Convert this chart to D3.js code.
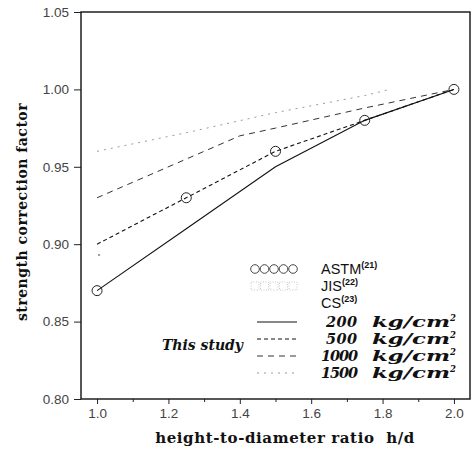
<!DOCTYPE html>
<html lang="en">
<head>
	<meta charset="UTF-8">
	<title>strength correction factor</title>
	<script src="https://cdn.jsdelivr.net/npm/d3@7"></script>
	<style>
		body{margin:0;background:#fff;}
		.tick text{font-family:"Liberation Sans",Arial,sans-serif;font-size:13.5px;fill:#444;}
	</style>
</head>
<body>
<script type="text/javascript">
// h/d values
var hd = [1.0, 1.25, 1.5, 1.75, 2.0];
// ASTM(21) markers
var astm = [0.87, 0.93, 0.96, 0.98, 1.00];
// JIS / CS markers (faint)
var jisX = [1.0];
var jis = [0.893];
// this study, per strength
var s200X = [1.0, 1.25, 1.5, 1.75, 2.0];
var s200 = [0.87, 0.91, 0.95, 0.98, 1.00];
var s500X = [1.0, 1.25, 1.5, 1.75, 2.0];
var s500 = [0.90, 0.93, 0.96, 0.98, 1.00];
var s1000X = [1.0, 1.25, 1.4, 1.5, 1.75, 2.0];
var s1000 = [0.930, 0.955, 0.970, 0.975, 0.988, 1.00];
var s1500X = [1.0, 1.25, 1.5, 1.75, 1.82];
var s1500 = [0.960, 0.972, 0.985, 0.996, 1.00];
var xTicks = [1.0, 1.2, 1.4, 1.6, 1.8, 2.0];
var xMinor = [1.1, 1.3, 1.5, 1.7, 1.9];
var yTicks = [0.80, 0.85, 0.90, 0.95, 1.00, 1.05];

var width = 472, height = 451;
var padding = {top:12, right:2, bottom:52, left:81};
var svg = d3.select("body").append("svg").attr("width",width).attr("height",height);

var xScale = d3.scaleLinear().domain([0.955,2.045]).range([padding.left, width-padding.right]);
var yScale = d3.scaleLinear().domain([0.80,1.05]).range([height-padding.bottom, padding.top]);

//坐标轴
var xAxis = d3.axisBottom(xScale).tickValues(xTicks).tickFormat(d3.format(".1f")).tickSize(5).tickPadding(4);
var xAxisMinor = d3.axisBottom(xScale).tickValues(xMinor).tickFormat("").tickSize(3);
var yAxis = d3.axisLeft(yScale).tickValues(yTicks).tickFormat(d3.format(".2f")).tickSize(7).tickPadding(5);

svg.append("g").attr("transform","translate(0,"+(height-padding.bottom)+")").call(xAxis);
svg.append("g").attr("transform","translate(0,"+(height-padding.bottom)+")").call(xAxisMinor);
svg.append("g").attr("transform","translate("+padding.left+",0)").call(yAxis);
svg.selectAll(".domain").remove();
svg.selectAll(".tick line").attr("stroke","#222");

//边框
svg.append("rect").attr("x",padding.left).attr("y",padding.top)
	.attr("width",width-padding.right-padding.left).attr("height",height-padding.bottom-padding.top)
	.attr("fill","none").attr("stroke","#111").attr("stroke-width",1.4);

//轴标题
svg.append("text").attr("x",285).attr("y",443)
	.attr("text-anchor","middle").attr("font-family","DejaVu Serif").attr("font-weight","bold")
	.attr("font-size","15px").attr("fill","#111").attr("letter-spacing","0.6px").attr("xml:space","preserve")
	.text("height-to-diameter ratio  h/d");
svg.append("text").attr("transform","translate(27,212) rotate(-90)")
	.attr("text-anchor","middle").attr("font-family","DejaVu Serif").attr("font-weight","bold")
	.attr("font-size","14px").attr("fill","#111").attr("letter-spacing","0.5px")
	.text("strength correction factor");

var line = d3.line().x(function(d){return xScale(d[0]);}).y(function(d){return yScale(d[1]);});
var series = [
	{x:s1500X, y:s1500, dash:"2,5", color:"#9a9a9a", w:1},
	{x:s1000X, y:s1000, dash:"6,5", color:"#333", w:1},
	{x:s500X, y:s500, dash:"4,3", color:"#111", w:1.1},
	{x:s200X, y:s200, dash:null, color:"#111", w:1.1}
];
series.forEach(function(s){
	svg.append("path").datum(d3.zip(s.x, s.y)).attr("d",line)
		.attr("fill","none").attr("stroke",s.color).attr("stroke-width",s.w)
		.attr("stroke-dasharray",s.dash);
});

svg.selectAll("circle.astm").data(d3.zip(hd, astm)).enter().append("circle").attr("class","astm")
	.attr("cx",function(d){return xScale(d[0]);}).attr("cy",function(d){return yScale(d[1]);})
	.attr("r",5).attr("fill","none").attr("stroke","#222").attr("stroke-width",1);
svg.selectAll("rect.jis").data(d3.zip(jisX, jis)).enter().append("rect").attr("class","jis")
	.attr("x",function(d){return xScale(d[0])+1;}).attr("y",function(d){return yScale(d[1])-1;})
	.attr("width",2).attr("height",2).attr("fill","#999");

//图例
var lx0 = 251, lx1 = 297, tx = 321;
var legend = [
	{label:"ASTM", sup:"(21)", type:"circle", y:269},
	{label:"JIS", sup:"(22)", type:"square", y:286},
	{label:"CS", sup:"(23)", type:"none", y:303},
	{label:"200", type:"line", dash:null, color:"#111", y:322},
	{label:"500", type:"line", dash:"4,3", color:"#111", y:339},
	{label:"1000", type:"line", dash:"6,5", color:"#333", y:356},
	{label:"1500", type:"line", dash:"2,5", color:"#9a9a9a", y:373}
];
legend.forEach(function(l){
	if(l.type=="circle"){
		svg.selectAll(null).data(d3.range(5)).enter().append("circle")
			.attr("cx",function(i){return lx0+4+i*9.5;}).attr("cy",l.y).attr("r",4.3)
			.attr("fill","none").attr("stroke","#333").attr("stroke-width",0.9);
	}else if(l.type=="square"){
		svg.selectAll(null).data(d3.range(5)).enter().append("rect")
			.attr("x",function(i){return lx0+i*9.5;}).attr("y",l.y-4).attr("width",8).attr("height",8)
			.attr("fill","none").attr("stroke","#bbb").attr("stroke-width",0.8).attr("stroke-dasharray","1,1.5");
	}else if(l.type=="line"){
		svg.append("line").attr("x1",lx0+6).attr("x2",lx1).attr("y1",l.y).attr("y2",l.y)
			.attr("stroke",l.color).attr("stroke-width",1).attr("stroke-dasharray",l.dash);
	}
	if(l.sup){
		var t = svg.append("text").attr("x",tx).attr("y",l.y+5).attr("font-family","Liberation Sans")
			.attr("font-size","14.5px").attr("fill","#111").text(l.label);
		t.append("tspan").attr("font-size","9px").attr("font-weight","bold").attr("dy","-6").text(l.sup);
	}else{
		var n = l.label.length;
		svg.append("text").attr("x",n==3?326:321).attr("y",l.y+5).attr("font-family","DejaVu Serif")
			.attr("font-style","italic").attr("font-weight","bold").attr("font-size","14.5px")
			.attr("fill","#111").attr("textLength",n==3?31:37).attr("lengthAdjust","spacing").text(l.label);
		var t = svg.append("text").attr("x",372).attr("y",l.y+5).attr("font-family","DejaVu Serif")
			.attr("font-style","italic").attr("font-weight","bold").attr("font-size","14.5px")
			.attr("fill","#111");
		t.append("tspan").attr("textLength",78).attr("lengthAdjust","spacingAndGlyphs").text("kg/cm");
		t.append("tspan").attr("font-size","8.5px").attr("dy","-6").text("2");
	}
});
svg.append("text").attr("x",243).attr("y",350).attr("text-anchor","end")
	.attr("font-family","DejaVu Serif").attr("font-style","italic").attr("font-weight","bold")
	.attr("font-size","14px").attr("fill","#111").text("This study");
</script>
</body>
</html>
